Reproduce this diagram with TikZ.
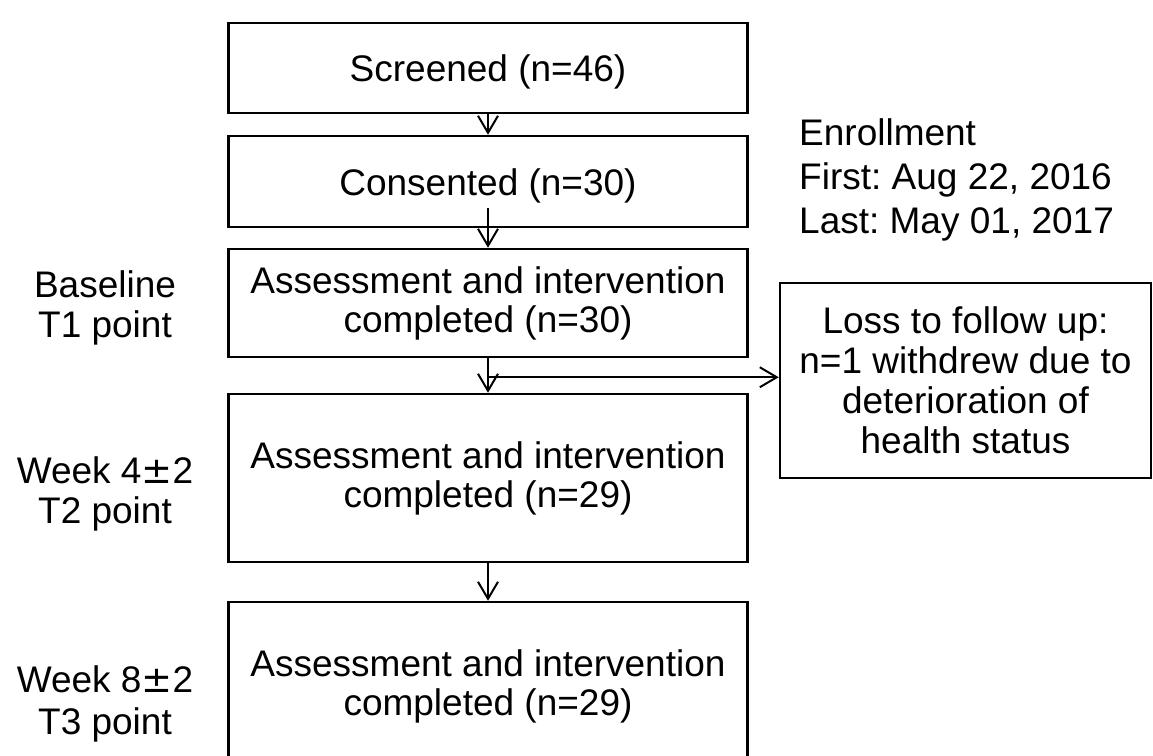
\documentclass[tikz,border=0pt]{standalone}
\usepackage{fontspec}
\setmainfont{Liberation Sans}
\newfontfamily\pmfont{DejaVu Sans}
\newcommand{\plusmin}{{\pmfont ±}}
\frenchspacing
\usetikzlibrary{arrows.meta,positioning}

\tikzset{
  stage/.style={draw, line width=2.5pt, minimum width=519pt, align=center, inner sep=0pt},
  oneline/.style={text height=35pt, text depth=8pt},
  sidebox/.style={draw, line width=2.5pt, minimum width=371pt, minimum height=195pt, align=center, inner sep=0pt},
  flow/.style={-{Straight Barb[length=17pt,width=20pt]}, line width=2pt},
  lbl/.style={align=center, inner sep=0pt}
}

\begin{document}
\begin{tikzpicture}[x=1pt, y=-1pt, font=\fontsize{37}{39}\selectfont]
    \useasboundingbox (0,0) rectangle (1153,755);
    % main column
    \node[stage, oneline, minimum height=90pt] (screened) at (488,68) {Screened (n=46)};
    \node[stage, oneline, minimum height=91pt] (consented) at (488,181.5) {Consented (n=30)};
    \node[stage, minimum height=108pt] (base) at (488,303) {Assessment and intervention\\completed (n=30)};
    \node[stage, minimum height=168pt] (week4) at (488,478) {Assessment and intervention\\completed (n=29)};
    \node[stage, minimum height=168pt] (week8) at (488,686) {Assessment and intervention\\completed (n=29)};
    \node[sidebox, font=\fontsize{37}{40}\selectfont] (loss) at (965.5,380.5) {Loss to follow up:\\n=1 withdrew due to\\deterioration of\\health status};
    % time points
    \node[lbl, font=\fontsize{37}{40}\selectfont] (t1lbl) at (105,308) {Baseline\\T1 point};
    \node[lbl, font=\fontsize{37}{40}\selectfont] (t2lbl) at (105,494) {Week 4\plusmin2\\T2 point};
    \node[lbl, font=\fontsize{37}{42}\selectfont] (t3lbl) at (105,704) {Week 8\plusmin2\\T3 point};
    \node[lbl, align=left, anchor=west, font=\fontsize{37}{44}\selectfont] (enrol) at (799,180) {Enrollment\\First: Aug 22, 2016\\Last: May 01, 2017};
    % arrows
    \draw[flow] (screened.south) -- (consented.north);
    \draw[flow] ([yshift=20pt]consented.south) -- (base.north);
    \draw[flow] (base.south) -- (week4.north);
    \coordinate (split) at ([yshift=-19pt]base.south);
    \draw[flow] (split) -- (split -| loss.west);
    \draw[flow] (week4.south) -- (week8.north);
\end{tikzpicture}
\end{document}
